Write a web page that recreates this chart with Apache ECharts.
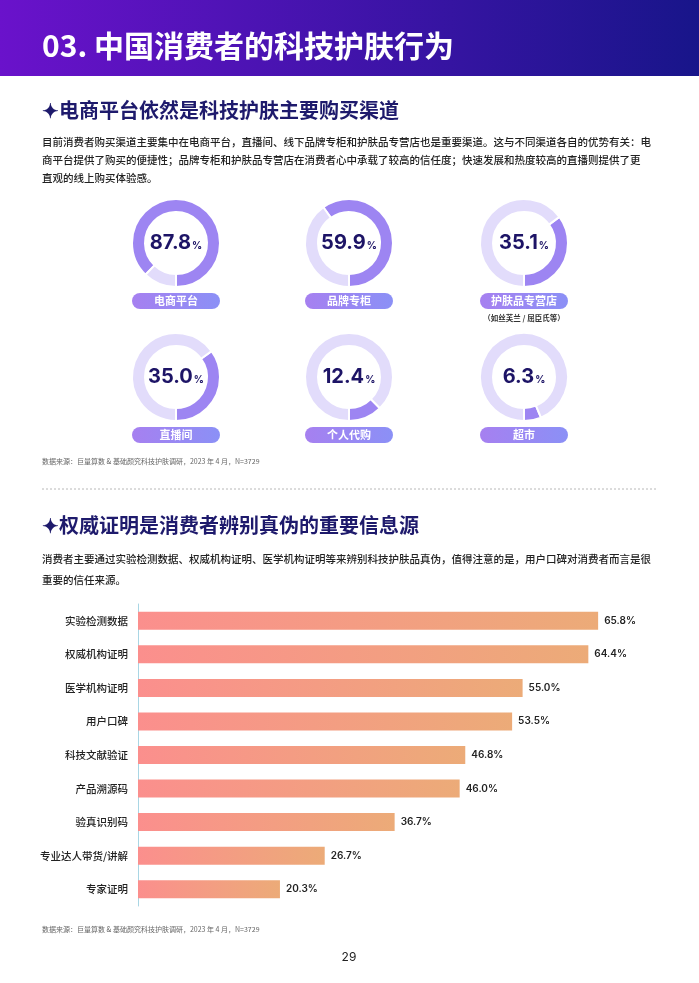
<!DOCTYPE html>
<html>
<head>
<meta charset="utf-8">
<script src="https://cdn.jsdelivr.net/npm/echarts@6/dist/echarts.min.js"></script>
<style>
html,body{margin:0;padding:0;background:#fff;}
#c{width:699px;height:983px;}
</style>
</head>
<body>
<div id="c"></div>
<script>
// ---- data ----
var channelNames = ['电商平台', '品牌专柜', '护肤品专营店', '直播间', '个人代购', '超市'];
var channelValues = [87.8, 59.9, 35.1, 35.0, 12.4, 6.3];
var channelNote = '（如丝芙兰 / 屈臣氏等）';

var proofCategories = ['实验检测数据', '权威机构证明', '医学机构证明', '用户口碑', '科技文献验证', '产品溯源码', '验真识别码', '专业达人带货/讲解', '专家证明'];
var proofValues = [65.8, 64.4, 55.0, 53.5, 46.8, 46.0, 36.7, 26.7, 20.3];

var pageTitle = '03. 中国消费者的科技护肤行为';
var section1Title = '✦电商平台依然是科技护肤主要购买渠道';
var section1Text = [
  '目前消费者购买渠道主要集中在电商平台，直播间、线下品牌专柜和护肤品专营店也是重要渠道。这与不同渠道各自的优势有关：电',
  '商平台提供了购买的便捷性；品牌专柜和护肤品专营店在消费者心中承载了较高的信任度；快速发展和热度较高的直播则提供了更',
  '直观的线上购买体验感。'
];
var section2Title = '✦权威证明是消费者辨别真伪的重要信息源';
var section2Text = [
  '消费者主要通过实验检测数据、权威机构证明、医学机构证明等来辨别科技护肤品真伪，值得注意的是，用户口碑对消费者而言是很',
  '重要的信任来源。'
];
var sourceText = '数据来源：巨量算数 & 基础颜究科技护肤调研，2023 年 4 月，N=3729';
var pageNumber = '29';

// ---- layout ----
var FONT = '"Noto Sans CJK SC", "Noto Sans", sans-serif';
var NUMFONT = 'Inter, "Noto Sans", sans-serif';
var NAVY = '#1e1a6c';
var donutCX = [176, 349, 524];
var donutCY = [243, 377];
var pillDY = 58;

var chart = echarts.init(document.getElementById('c'), null, {renderer: 'canvas'});

function txt(text, x, y, size, weight, color, align, family) {
  return {type: 'text', silent: true, z: 10, style: {
    text: text, x: x, y: y,
    fontSize: size, fontWeight: weight || 'normal', fontFamily: family || FONT,
    fill: color || '#222',
    textAlign: align || 'left', align: align || 'left',
    textVerticalAlign: 'middle', verticalAlign: 'middle'
  }};
}

var graphics = [];
// header band
graphics.push({
  type: 'rect', silent: true, z: 1,
  shape: {x: 0, y: 0, width: 699, height: 76},
  style: {fill: new echarts.graphic.LinearGradient(0, 0, 1, 0, [
    {offset: 0, color: '#6a12cb'}, {offset: 1, color: '#18158a'}
  ])}
});
graphics.push(txt(pageTitle, 42, 46, 30, 'bold', '#ffffff'));
graphics.push(txt(section1Title, 42, 110, 20, 'bold', NAVY));
section1Text.forEach(function (l, i) {
  graphics.push(txt(l, 42, 142 + i * 18, 10.5, 500, '#222'));
});
// donuts + pills
var pieSeries = [];
channelNames.forEach(function (name, i) {
  var cx = donutCX[i % 3], cy = donutCY[Math.floor(i / 3)];
  var py = cy + pillDY;
  graphics.push({
    type: 'rect', silent: true, z: 5,
    shape: {x: cx - 44, y: py - 8, width: 88, height: 16, r: 8},
    style: {fill: new echarts.graphic.LinearGradient(0, 0, 1, 0, [
      {offset: 0, color: '#a680f0'}, {offset: 1, color: '#8b90f6'}
    ])}
  });
  graphics.push(txt(name, cx, py, 11, 'bold', '#ffffff', 'center'));
  var v = channelValues[i];
  pieSeries.push({
    type: 'pie',
    center: [cx, cy],
    radius: [31, 44],
    startAngle: 270,
    clockwise: false,
    silent: true,
    animation: false,
    labelLine: {show: false},
    itemStyle: {borderColor: '#ffffff', borderWidth: 2},
    data: [
      {
        value: v, name: name,
        itemStyle: {color: '#9d85f2'},
        label: {
          show: true, position: 'center',
          formatter: '{a|' + v.toFixed(1) + '}{b|%}',
          rich: {
            a: {fontSize: 20, fontWeight: 'bold', color: '#1d1466', fontFamily: NUMFONT},
            b: {fontSize: 10, fontWeight: 'bold', color: '#1d1466', fontFamily: NUMFONT, padding: [5, 0, 0, 1]}
          }
        }
      },
      {value: 100 - v, name: '', itemStyle: {color: '#e2dcfb'}, label: {show: false}}
    ]
  });
});
graphics.push(txt(channelNote, donutCX[2], 318, 7.5, 'bold', '#333', 'center'));
graphics.push(txt(sourceText, 42, 461, 7, 'normal', '#666'));
graphics.push({
  type: 'line', silent: true, z: 5,
  shape: {x1: 42, y1: 489, x2: 656, y2: 489},
  style: {stroke: '#b8b8b8', lineWidth: 1, lineDash: [2, 2]}
});
graphics.push(txt(section2Title, 42, 525, 20, 'bold', NAVY));
section2Text.forEach(function (l, i) {
  graphics.push(txt(l, 42, 559 + i * 21, 10.5, 500, '#222'));
});
graphics.push(txt(sourceText, 42, 929, 7, 'normal', '#666'));
graphics.push(txt(pageNumber, 349, 957, 12, 'normal', '#222', 'center', NUMFONT));

var barGradient = new echarts.graphic.LinearGradient(0, 0, 1, 0, [
  {offset: 0, color: '#fb8f8d'}, {offset: 1, color: '#ecab78'}
]);

var option = {
  animation: false,
  grid: {left: 138, top: 604, width: 489.5, height: 302, containLabel: false},
  xAxis: {type: 'value', min: 0, max: 70, show: false},
  yAxis: {
    type: 'category', data: proofCategories, inverse: true,
    axisLine: {show: true, lineStyle: {color: '#a9d6e4', width: 1}},
    axisTick: {show: false},
    axisLabel: {fontSize: 10.5, fontWeight: 500, color: '#222', margin: 10, fontFamily: FONT}
  },
  graphic: {elements: graphics},
  series: pieSeries.concat([{
    type: 'bar',
    data: proofValues,
    barWidth: 18,
    silent: true,
    itemStyle: {color: barGradient},
    label: {
      show: true, position: 'right', distance: 6,
      formatter: function (p) { return p.value.toFixed(1) + '%'; },
      fontSize: 10, fontWeight: 600, color: '#222', fontFamily: NUMFONT
    }
  }])
};
chart.setOption(option);
</script>
</body>
</html>
